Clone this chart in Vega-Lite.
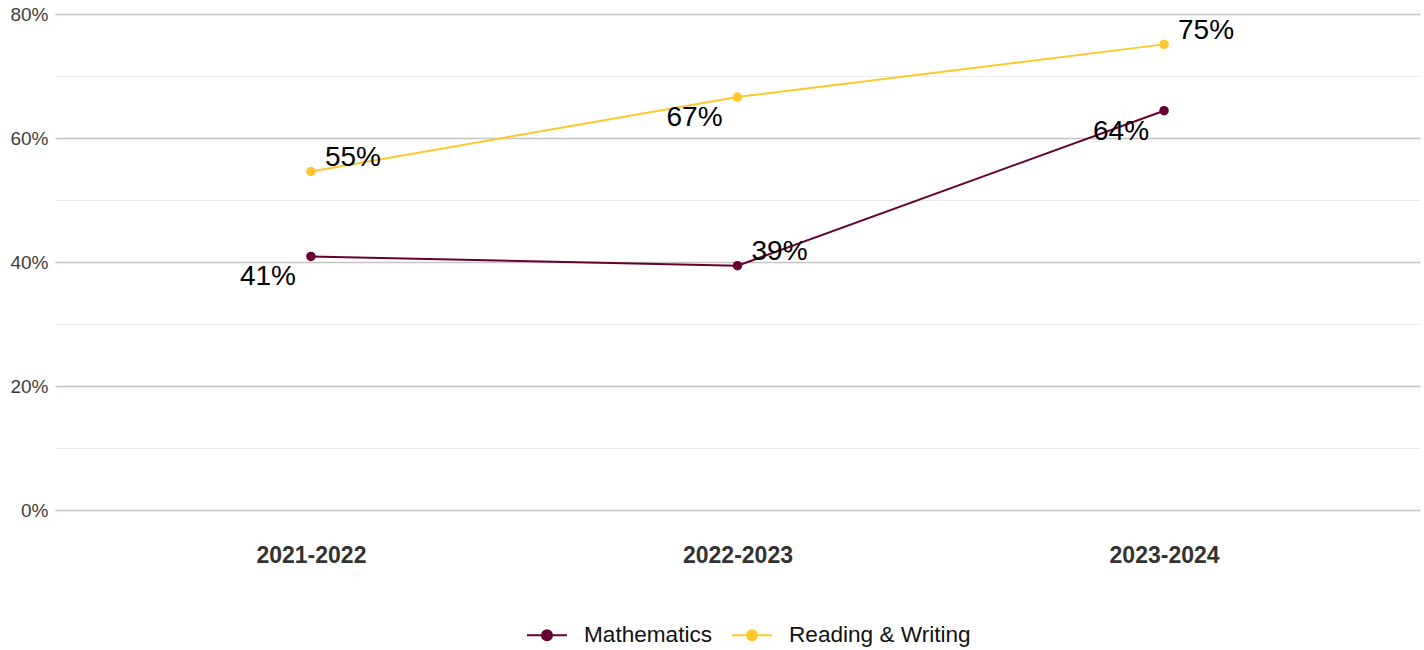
{
  "$schema": "https://vega.github.io/schema/vega-lite/v6.json",
  "width": 1365,
  "height": 496,
  "autosize": {"type": "none"},
  "padding": {"left": 55, "top": 14, "right": 4, "bottom": 140},
  "background": "white",
  "config": {
    "view": {"stroke": null},
    "font": "Liberation Sans"
  },
  "data": {
    "values": [
      {"year": "2021-2022", "subject": "Mathematics", "rate": 0.409},
      {"year": "2022-2023", "subject": "Mathematics", "rate": 0.394},
      {"year": "2023-2024", "subject": "Mathematics", "rate": 0.644},
      {"year": "2021-2022", "subject": "Reading & Writing", "rate": 0.546},
      {"year": "2022-2023", "subject": "Reading & Writing", "rate": 0.666},
      {"year": "2023-2024", "subject": "Reading & Writing", "rate": 0.751}
    ]
  },
  "encoding": {
    "x": {
      "field": "year",
      "type": "ordinal",
      "scale": {"type": "point", "padding": 0.6},
      "axis": {
        "title": null,
        "domain": false,
        "ticks": false,
        "grid": false,
        "labelAngle": 0,
        "labelFont": "Liberation Sans",
        "labelFontSize": 23,
        "labelFontWeight": "bold",
        "labelColor": "#333333",
        "labelPadding": 34
      }
    },
    "y": {
      "field": "rate",
      "type": "quantitative",
      "scale": {"domain": [0, 0.8], "nice": false, "zero": true},
      "axis": {
        "title": null,
        "domain": false,
        "ticks": false,
        "values": [0, 0.1, 0.2, 0.3, 0.4, 0.5, 0.6, 0.7, 0.8],
        "labelExpr": "round(datum.value*10) % 2 == 1 ? '' : format(datum.value, '.0%')",
        "gridColor": {"condition": {"test": "round(datum.value*10) % 2 == 1", "value": "#ebebeb"}, "value": "#c4c4c4"},
        "gridWidth": {"condition": {"test": "round(datum.value*10) % 2 == 1", "value": 1}, "value": 1.4},
        "labelFont": "Liberation Sans",
        "labelFontSize": 19,
        "labelColor": "#3d3d3d",
        "labelPadding": 7
      }
    },
    "color": {
      "field": "subject",
      "type": "nominal",
      "scale": {"domain": ["Mathematics", "Reading & Writing"], "range": ["#660033", "#FFC72C"]},
      "legend": {
        "title": null,
        "orient": "none",
        "direction": "horizontal",
        "legendX": 471,
        "legendY": 600,
        "symbolType": "M-1,0H1M0.25,0A0.25,0.25 0 1 1 -0.25,0A0.25,0.25 0 1 1 0.25,0Z",
        "symbolSize": 1600,
        "symbolStrokeWidth": 2,
        "labelFont": "Liberation Sans",
        "labelFontSize": 22.6,
        "labelColor": "#111111",
        "labelOffset": 16,
        "labelLimit": 400,
        "columnPadding": 15,
        "encode": {
          "symbols": {
            "update": {
              "stroke": {"scale": "color", "field": "value"},
              "fill": {"scale": "color", "field": "value"},
              "opacity": {"value": 1}
            }
          }
        }
      }
    }
  },
  "layer": [
    {"mark": {"type": "line", "strokeWidth": 2}},
    {"mark": {"type": "point", "filled": true, "size": 90, "opacity": 1}},
    {
      "transform": [{"filter": "(datum.subject == 'Mathematics' && datum.year != '2022-2023') || (datum.subject == 'Reading & Writing' && datum.year == '2022-2023')"}],
      "mark": {"type": "text", "font": "Liberation Sans", "fontSize": 28, "align": "center", "baseline": "alphabetic", "dx": -43, "dy": 29, "color": "#000000"},
      "encoding": {
        "text": {"field": "rate", "type": "quantitative", "format": ".0%"},
        "color": {"value": "#000000"}
      }
    },
    {
      "transform": [{"filter": "(datum.subject == 'Mathematics' && datum.year == '2022-2023') || (datum.subject == 'Reading & Writing' && datum.year != '2022-2023')"}],
      "mark": {"type": "text", "font": "Liberation Sans", "fontSize": 28, "align": "center", "baseline": "alphabetic", "dx": 42, "dy": -5.5, "color": "#000000"},
      "encoding": {
        "text": {"field": "rate", "type": "quantitative", "format": ".0%"},
        "color": {"value": "#000000"}
      }
    }
  ]
}
